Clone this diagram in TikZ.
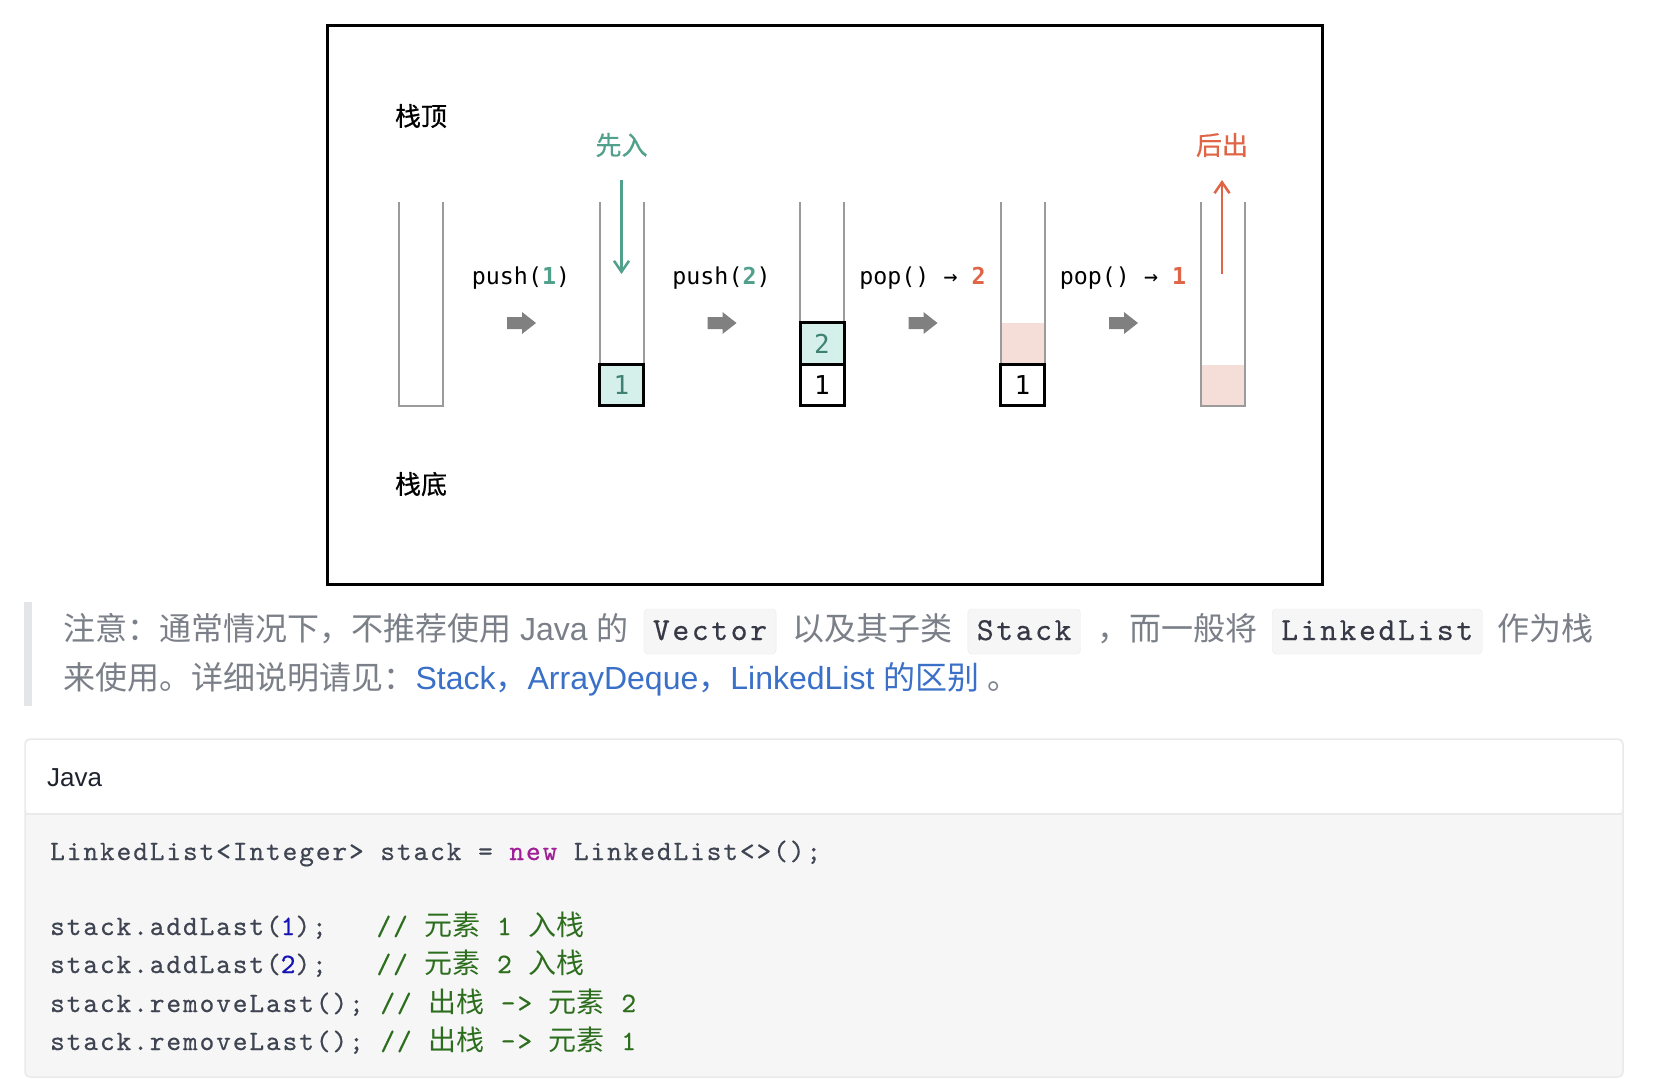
\documentclass[tikz,border=0pt]{standalone}
\usepackage{fontspec}
\setmainfont{Liberation Sans}
\newfontfamily\codefont{lmmono10-regular.otf}[LetterSpace=6.8, FakeBold=0.5]
\newfontfamily\icodefont{lmmono10-regular.otf}[LetterSpace=8.3, FakeBold=0.5]
\newfontfamily\cjk{Noto Sans CJK SC}
\newfontfamily\cjkm{Noto Sans CJK SC}[FakeBold=0.6]
\newfontfamily\labmono{DejaVu Sans Mono}
\usetikzlibrary{arrows.meta}

\definecolor{tubegray}{RGB}{155,155,155}
\definecolor{cellgreen}{RGB}{213,240,235}
\definecolor{numgreen}{RGB}{62,130,115}
\definecolor{ingreen}{RGB}{80,160,140}
\definecolor{outred}{RGB}{224,100,70}
\definecolor{pinkfill}{RGB}{245,222,216}
\definecolor{arrowgray}{RGB}{128,128,128}
\definecolor{quotegray}{RGB}{122,127,136}
\definecolor{quotebar}{RGB}{228,229,233}
\definecolor{linkblue}{RGB}{58,112,200}
\definecolor{codebg}{RGB}{246,246,246}
\definecolor{codeborder}{RGB}{234,234,234}
\definecolor{icodetext}{RGB}{55,58,70}
\definecolor{codetext}{RGB}{62,68,82}
\definecolor{cmtgreen}{RGB}{45,110,30}
\definecolor{kwpurple}{RGB}{160,30,150}
\definecolor{numblue}{RGB}{20,20,180}
\definecolor{headtext}{RGB}{30,35,45}

\newcommand\qfont{\fontsize{32}{38}\selectfont}

\begin{document}
\begin{tikzpicture}[x=1pt,y=-1pt,
    tube/.style={draw=tubegray, line width=2pt},
    cell/.style={draw=black, line width=3pt, minimum width=44pt, minimum height=41.5pt,
        inner sep=0pt, font=\labmono\fontsize{26}{26}\selectfont},
    oplabel/.style={anchor=base, inner sep=0pt, font=\labmono\fontsize{23.3}{24}\selectfont},
    side/.style={inner sep=0pt, font=\cjkm\fontsize{26}{26}\selectfont},
    flow/.style={line width=2.5pt, -{Straight Barb[length=11pt,width=15pt]}},
    qtext/.style={anchor=base west, inner sep=0pt, text=quotegray, font=\qfont},
    icode/.style={anchor=base west, draw=codeborder, fill=codebg, rounded corners=4pt,
        inner xsep=9pt, inner ysep=9pt, text height=22pt, text depth=5pt,
        text=icodetext, font=\icodefont\fontsize{32}{32}\selectfont},
    code/.style={anchor=base west, inner sep=0pt, text=codetext,
        font=\codefont\fontsize{28}{28}\selectfont}]
    \useasboundingbox (0,0) rectangle (1668,1092);
    \fill[white] (0,0) rectangle (1668,1092);

    % frame of the figure
    \draw[line width=3pt] (327,25) rectangle (1322,584);

    % emptied slots
    \fill[pinkfill] (1000.5,323) rectangle (1044.5,364);
    \fill[pinkfill] (1201,365) rectangle (1245,406);

    % the five stacks
    \foreach \x in {421,621.5,822,1022.5,1223}
        \draw[tube] (\x-22,202) -- (\x-22,406) -- (\x+22,406) -- (\x+22,202);

    \node[cell, fill=cellgreen, text=numgreen] (s2a) at (621.5,385) {1};
    \node[cell, fill=white] (s3a) at (822,385) {1};
    \node[cell, fill=cellgreen, text=numgreen] (s3b) at (822,343.5) {2};
    \node[cell, fill=white] (s4a) at (1022.5,385) {1};

    % step arrows
    \foreach \m in {521,721.5,922.5,1123}
        \fill[arrowgray] (\m-14,317) -- (\m+1,317) -- (\m+1,312) -- (\m+15,323)
            -- (\m+1,334) -- (\m+1,329) -- (\m-14,329) -- cycle;

    \node[oplabel] (op1) at (521,284) {push(\textbf{\color{ingreen}1})};
    \node[oplabel] (op2) at (721.5,284) {push(\textbf{\color{ingreen}2})};
    \node[oplabel] (op3) at (922.5,284) {pop() → \textbf{\color{outred}2}};
    \node[oplabel] (op4) at (1123,284) {pop() → \textbf{\color{outred}1}};

    \node[side] (top) at (421,116) {栈顶};
    \node[side] (bottom) at (421,484) {栈底};
    \node[side, text=ingreen] (in) at (621.5,145) {先入};
    \node[side, text=outred] (out) at (1222,145) {后出};

    \coordinate (inA) at (621.5,180);
    \coordinate (inB) at (621.5,274);
    \coordinate (outA) at (1222,274);
    \coordinate (outB) at (1222,180);
    \draw[flow, ingreen] (inA) -- (inB);
    \draw[flow, outred] (outA) -- (outB);

    % note below the figure
    \fill[quotebar] (24,602) rectangle (32,706);
    \node[qtext] (q1) at (63,640) {{\cjk 注意：通常情况下，不推荐使用} Java {\cjk 的}};
    \node[icode] (v) at ([xshift=15pt]q1.base east) {Vector};
    \node[qtext] (q2) at ([xshift=16pt]v.base east) {\cjk 以及其子类};
    \node[icode] (st) at ([xshift=15pt]q2.base east) {Stack};
    \node[qtext] (q3) at ([xshift=17pt]st.base east) {\cjk ，而一般将};
    \node[icode] (ll) at ([xshift=14pt]q3.base east) {LinkedList};
    \node[qtext] (q4) at ([xshift=15pt]ll.base east) {\cjk 作为栈};
    \node[qtext] (q5) at (63,689) {\cjk 来使用。详细说明请见：};
    \node[qtext, text=linkblue] (link) at (q5.base east)
        {Stack{\cjk ，}ArrayDeque{\cjk ，}LinkedList {\cjk 的区别}};
    \node[qtext] (q6) at ([xshift=8pt]link.base east) {\cjk 。};

    % code block
    \draw[codeborder, fill=codebg, line width=1.5pt, rounded corners=5pt]
        (25,739) rectangle (1623,1077);
    \fill[white, rounded corners=5pt] (26,740) -- (1622,740) -- (1622,814) -- (26,814) -- cycle;
    \draw[codeborder, line width=1.5pt] (26,814) -- (1622,814);
    \node[anchor=base west, inner sep=0pt, text=headtext, font=\fontsize{26}{26}\selectfont]
        (lang) at (47,786) {Java};

    \node[code] (c1) at (50,860) {LinkedList<Integer> stack = \textcolor{kwpurple}{new} LinkedList<>();};
    \node[code] (c2) at (50,935) {stack.addLast(\textcolor{numblue}{1});\ \ \ \textcolor{cmtgreen}{// {\cjk 元素} 1 {\cjk 入栈}}};
    \node[code] (c3) at (50,973) {stack.addLast(\textcolor{numblue}{2});\ \ \ \textcolor{cmtgreen}{// {\cjk 元素} 2 {\cjk 入栈}}};
    \node[code] (c4) at (50,1012) {stack.removeLast();\ \textcolor{cmtgreen}{// {\cjk 出栈} -> {\cjk 元素} 2}};
    \node[code] (c5) at (50,1050) {stack.removeLast();\ \textcolor{cmtgreen}{// {\cjk 出栈} -> {\cjk 元素} 1}};
\end{tikzpicture}
\end{document}
